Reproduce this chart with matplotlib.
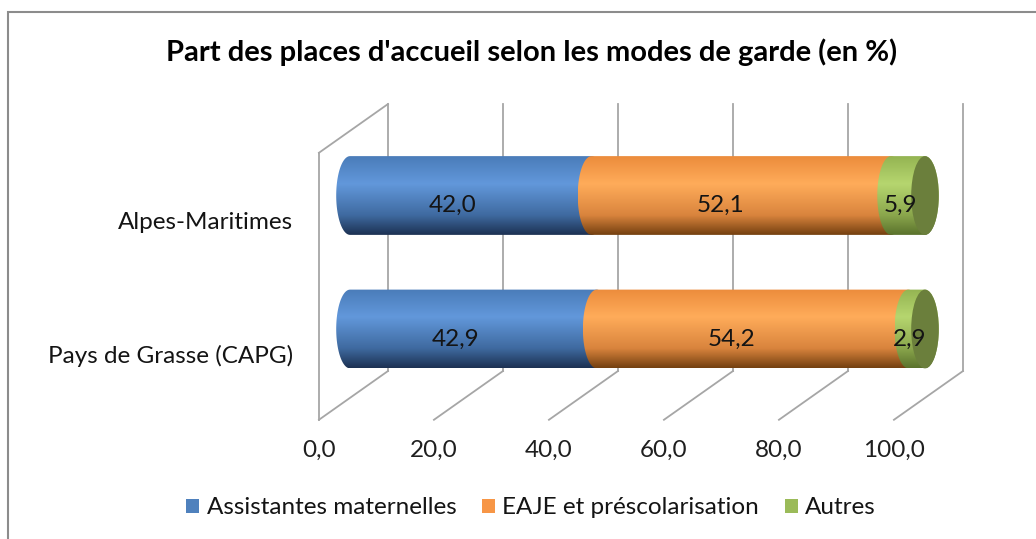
import numpy as np
import matplotlib
matplotlib.use("Agg")
import matplotlib.pyplot as plt
from matplotlib.patches import Rectangle, Ellipse, PathPatch, Patch
from matplotlib.path import Path
from matplotlib.colors import to_rgb

# data
categories = ["Pays de Grasse (CAPG)", "Alpes-Maritimes"]
series = ["Assistantes maternelles", "EAJE et préscolarisation", "Autres"]
assistantes = [42.9, 42.0]
eaje = [54.2, 52.1]
autres = [2.9, 5.9]
ticks = [0, 20, 40, 60, 80, 100]
title = "Part des places d'accueil selon les modes de garde (en %)"

# colours: flat (legend), then gradient top / light / bottom for the cylinders
flat = ["#4f81bd", "#f79646", "#9bbb59"]
grads = [
    [(0.0, "#4a7cb9"), (0.35, "#6298db"), (0.75, "#3f6aa0"), (1.0, "#1c3152")],
    [(0.0, "#ec8c3c"), (0.35, "#ffac5a"), (0.75, "#d9843d"), (1.0, "#744010")],
    [(0.0, "#94b452"), (0.35, "#b6d66f"), (0.75, "#8aa64c"), (1.0, "#5a722c")],
]
face_col = "#6b7f3c"
grid_col = "#a6a6a6"

plt.rcParams['font.family'] = ['Lato', 'DejaVu Sans']

W, H = 1036, 539
fig = plt.figure(figsize=(W / 100, H / 100), dpi=100)

# pixel anchors -> axes placement (value 0 at x=350, 100 at x=925; cat 0 at y=329, cat 1 at y=195.5)
sx = (925 - 350) / 100.0
sy = 329 - 195.5
xlim = (-25, 120)
ylim = (-1.3, 2.3)
left_px = 350 + xlim[0] * sx
right_px = 350 + xlim[1] * sx
bot_px = 329 - ylim[0] * sy
top_px = 329 - ylim[1] * sy
ax = fig.add_axes([left_px / W, 1 - bot_px / H, (right_px - left_px) / W, (bot_px - top_px) / H])
ax.set_xlim(*xlim)
ax.set_ylim(*ylim)
ax.axis("off")

# outer border
fig.patches.append(Rectangle((8 / W, -0.05), 1.1, 1 - 12 / H + 0.05, transform=fig.transFigure,
                             fill=False, edgecolor="#8c8c8c", linewidth=1.5))

# 3d walls
front_dx, back_dx = -5.4, 6.6
floor_front, floor_back = -0.68, -0.315
top_back = 1.685
top_front = floor_front + (top_back - floor_back)
lw = 1.3
for v in ticks:
    ax.plot([v + back_dx, v + back_dx], [floor_back, top_back], color=grid_col, lw=lw, zorder=1)
    ax.plot([v + back_dx, v + front_dx], [floor_back, floor_front], color=grid_col, lw=lw, zorder=1)
    ax.text(v + front_dx, -0.906, ("%.1f" % v).replace(".", ","), ha="center", va="center",
            fontsize=17.5, color="#1f1f1f")
ax.plot([front_dx, front_dx], [floor_front, top_front], color=grid_col, lw=lw, zorder=1)
ax.plot([front_dx, back_dx], [top_front, top_back], color=grid_col, lw=lw, zorder=1)

# cylinders
bh = 0.59
a = 2.4  # half width of the end ellipses, in x units


def grad_image(stops, n=200):
    t = np.linspace(0, 1, n)
    pos = [s[0] for s in stops]
    cols = np.array([to_rgb(s[1]) for s in stops])
    img = np.zeros((n, 1, 3))
    for k in range(3):
        img[:, 0, k] = np.interp(t, pos, cols[:, k])
    return img


def seg_path(x0, x1, yc):
    th1 = np.linspace(np.pi / 2, 3 * np.pi / 2, 40)   # left half ellipse
    th2 = np.linspace(-np.pi / 2, np.pi / 2, 40)      # right half ellipse
    xs = np.concatenate([x0 + a * np.cos(th1), x1 + a * np.cos(th2)])
    ys = np.concatenate([yc + bh / 2 * np.sin(th1), yc + bh / 2 * np.sin(th2)])
    verts = np.column_stack([xs, ys])
    verts = np.vstack([verts, verts[:1]])
    return Path(verts, closed=True)


values = [assistantes, eaje, autres]
for i, cat in enumerate(categories):
    left = 0.0
    for j, vals in enumerate(values):
        w = vals[i]
        p = PathPatch(seg_path(left, left + w, i), facecolor="none", edgecolor="none")
        ax.add_patch(p)
        im = ax.imshow(grad_image(grads[j]), extent=(left - a, left + w + a, i - bh / 2, i + bh / 2),
                       aspect="auto", interpolation="bilinear", zorder=2 + j)
        im.set_clip_path(p)
        ax.text(left + w * 0.45 - 1, i - 0.075, ("%.1f" % w).replace(".", ","), ha="center", va="center",
                fontsize=17.5, color="#141414", zorder=10)
        left += w
    ax.add_patch(Ellipse((left, i), 2 * a, bh, facecolor=face_col, edgecolor="none", zorder=6))
    ax.text(-9.9, i - 0.2, cat, ha="right", va="center", fontsize=17.5, color="#141414")

ax.set_zorder(1)

fig.text(532 / W, 1 - 52 / H, title, ha="center", va="center", fontsize=21, fontweight="bold", color="#000000")

handles = [Patch(facecolor=c, edgecolor="none") for c in flat]
fig.legend(handles, series, loc="center", bbox_to_anchor=(531 / W, 1 - 508 / H), ncol=3, frameon=False,
           fontsize=17.5, handlelength=0.55, handleheight=0.55, handletextpad=0.3, columnspacing=1.05,
           labelcolor="#141414")

fig.savefig("out.png", dpi=100)
